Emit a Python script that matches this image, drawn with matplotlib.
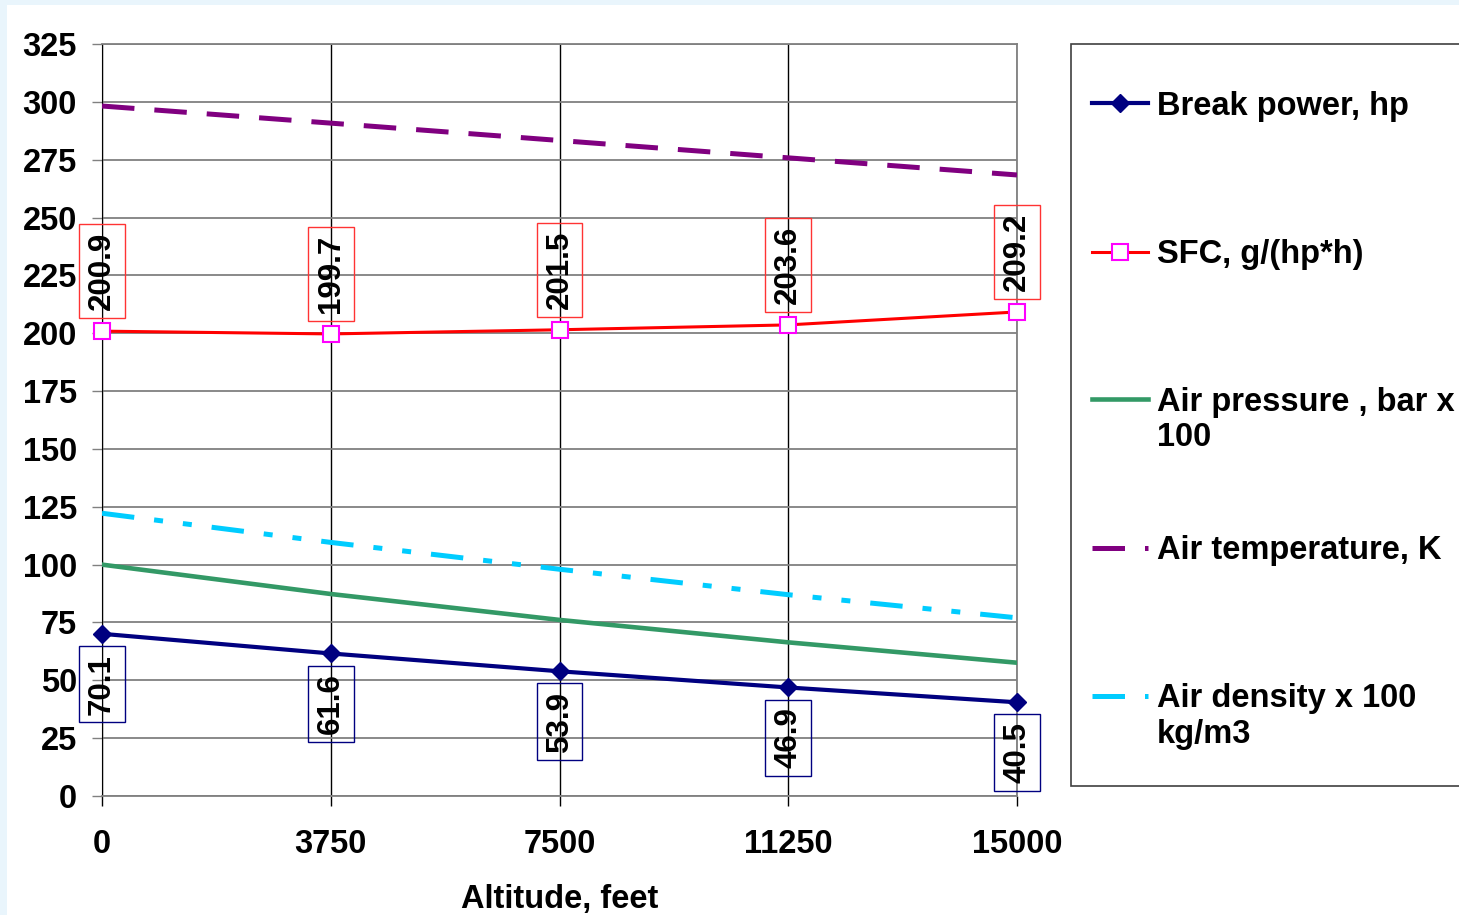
import numpy as np
import matplotlib
matplotlib.use("Agg")
import matplotlib.pyplot as plt
from matplotlib.lines import Line2D
from matplotlib.patches import Rectangle

plt.rcParams['font.family'] = ['Liberation Sans', 'DejaVu Sans']
plt.rcParams['font.weight'] = 'bold'

# data
altitude = [0, 3750, 7500, 11250, 15000]
break_power = [70.1, 61.6, 53.9, 46.9, 40.5]
sfc = [200.9, 199.7, 201.5, 203.6, 209.2]
air_pressure = [100.0, 87.3, 76.1, 66.4, 57.6]
air_temp = [298.2, 290.8, 283.3, 275.8, 268.4]
air_density = [122.2, 109.6, 98.0, 87.0, 77.0]

labels = ["Break power, hp", "SFC, g/(hp*h)", "Air pressure , bar x\n100",
          "Air temperature, K", "Air density x 100\nkg/m3"]

W, H = 1459, 915
fig = plt.figure(figsize=(W / 100, H / 100), dpi=100)
fig.patch.set_facecolor('#e9f5fc')
fig.add_artist(Rectangle((7 / W, 0), 1, 1 - 5 / H, transform=fig.transFigure,
                         facecolor='white', edgecolor='none', zorder=0))

ax = fig.add_axes([102 / W, 1 - 796 / H, (1017 - 102) / W, (796 - 44) / H])
ax.set_facecolor('none')

fs = 23.5
fs_lab = 22.5

# series
l1, = ax.plot(altitude, break_power, color='#000080', lw=3, marker='D', ms=8.7,
              mfc='#000080', mec='#000080', zorder=5, clip_on=False)
l2, = ax.plot(altitude, sfc, color='#ff0000', lw=2.2, marker='s', ms=11.5,
              mfc='white', mec='#ff00ff', mew=1.5, zorder=5, clip_on=False)
l3, = ax.plot(altitude, air_pressure, color='#339966', lw=3.3, zorder=4)
l4, = ax.plot(altitude, air_temp, color='#800080', lw=3.6, dashes=(6.5, 4), zorder=4)
l5, = ax.plot(altitude, air_density, color='#00ccff', lw=3.6,
              dashes=(6.5, 4, 1.8, 4, 1.8, 4), zorder=4)

# data labels
for x, v in zip(altitude, break_power):
    ax.annotate(f"{v}", (x, v), xytext=(0, -20), textcoords='offset pixels',
                rotation=90, ha='center', va='top', fontsize=fs_lab,
                bbox=dict(boxstyle='square,pad=0.25', fc='none', ec='#000080', lw=1))
for x, v in zip(altitude, sfc):
    ax.annotate(f"{v}", (x, v), xytext=(0, 21), textcoords='offset pixels',
                rotation=90, ha='center', va='bottom', fontsize=fs_lab,
                bbox=dict(boxstyle='square,pad=0.25', fc='none', ec='#ff3333', lw=1))

ax.set_xlim(0, 15000)
ax.set_ylim(0, 325)
ax.set_xticks(altitude)
ax.set_yticks(np.arange(0, 326, 25))
ax.yaxis.grid(True, color='#808080', lw=1.3)
ax.xaxis.grid(True, color='black', lw=1)
ax.set_axisbelow(True)
for s in ['top', 'right', 'bottom']:
    ax.spines[s].set_color('#808080')
    ax.spines[s].set_linewidth(1.3)
ax.spines['left'].set_color('black')
ax.tick_params(axis='y', length=7, width=1, color='#808080', pad=11, labelsize=fs)
ax.tick_params(axis='x', length=7, width=1, color='black', pad=17, labelsize=fs)
for t in ax.get_xticklabels() + ax.get_yticklabels():
    t.set_fontweight('bold')
ax.set_xlabel("Altitude, feet", fontsize=fs, fontweight='bold', labelpad=17)

# legend box
fig.add_artist(Rectangle((1071 / W, 1 - 786 / H), 0.5, (786 - 44) / H,
                         transform=fig.transFigure, facecolor='white',
                         edgecolor='#404040', lw=1.2, zorder=1))
rows = [103, 252, 399, 548, 696]
for line, lab, yp in zip([l1, l2, l3, l4, l5], labels, rows):
    yf = 1 - yp / H
    h = Line2D([1092 / W, 1148 / W], [yf, yf], transform=fig.transFigure,
               color=line.get_color(), lw=line.get_linewidth(), zorder=2)
    if line is l4:
        h.set_dashes((6.5, 4))
    if line is l5:
        h.set_dashes((6.5, 4, 1.8, 4))
    fig.add_artist(h)
    if line.get_marker() not in (None, 'None', ''):
        m = Line2D([1120 / W], [yf], transform=fig.transFigure, linestyle='none',
                   marker=line.get_marker(), ms=line.get_markersize(),
                   mfc=line.get_markerfacecolor(), mec=line.get_markeredgecolor(),
                   mew=line.get_markeredgewidth(), zorder=3)
        fig.add_artist(m)
    fig.text(1157 / W, 1 - (yp - 12.5) / H, lab, fontsize=fs, fontweight='bold',
             va='top', ha='left', linespacing=1.2, zorder=3)

fig.savefig("out.png", dpi=100)
